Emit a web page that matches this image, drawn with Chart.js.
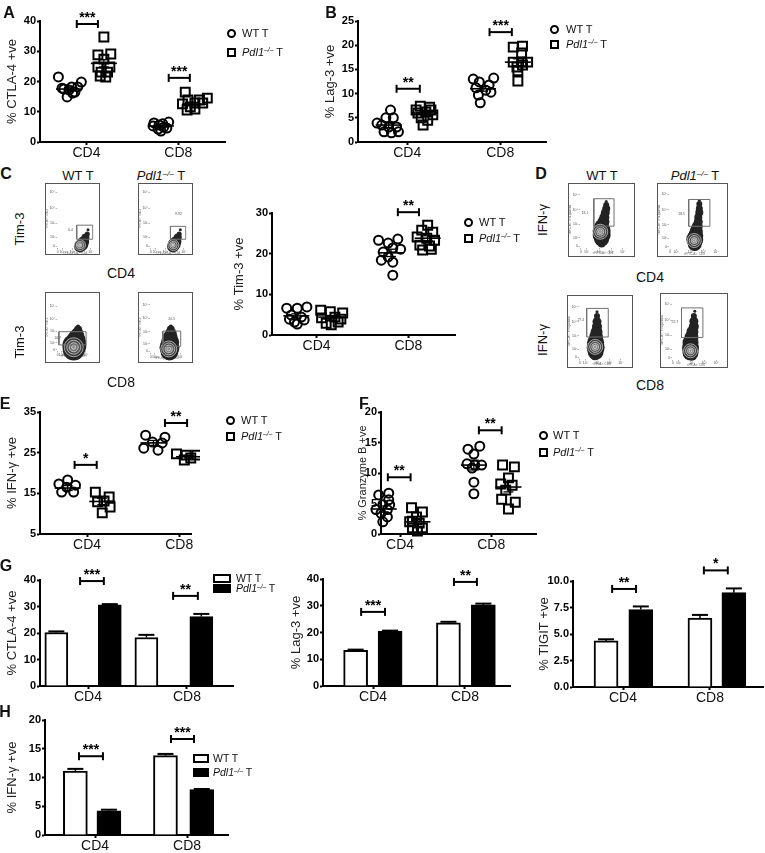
<!DOCTYPE html>
<html>
<head>
<meta charset="utf-8">
<title>Pdl1 T cell panels</title>
<script src="https://cdn.jsdelivr.net/npm/chart.js@4.4.1/dist/chart.umd.min.js"></script>
<style>
  html, body { margin: 0; padding: 0; background: #fff; }
  #fig { position: relative; width: 765px; height: 853px; overflow: hidden;
         font-family: "Liberation Sans", Arial, sans-serif; color: #111; }
  #fig canvas { position: absolute; }
  .t { position: absolute; white-space: nowrap; line-height: 1; }
  .c { transform: translateX(-50%); }
  .r { transform: translate(-50%, -50%) rotate(-90deg); }
  .b { font-weight: bold; }
  .sup { font-size: 0.62em; position: relative; top: -0.45em; font-style: italic; }
  .sym { position: absolute; box-sizing: border-box; border: 2px solid #000; }
</style>
</head>
<body>
<div id="fig"></div>
<script>
// ---------------- data ----------------
// dot plots: columns are WT CD4, Pdl1 CD4, WT CD8, Pdl1 CD8 (x axis: CD4 = 1, CD8 = 3)
const aPos = [0.62, 1.38, 2.62, 3.36];
const aWT4 = [21.5, 17.8, 17.5, 14.9, 17.2, 18.2, 16.2, 16.5, 18.2, 19.8];
const aWT4x = [-0.23, -0.15, -0.11, -0.04, 0, 0.06, 0.08, 0.13, 0.19, 0.27];
const aKO4 = [34.7, 28.8, 29.1, 27.4, 24.8, 24.8, 23.1, 23.1, 21.8, 21.5];
const aKO4x = [0, -0.13, 0.15, 0, -0.13, 0.13, -0.06, 0.08, -0.08, 0.04];
const aWT8 = [6.3, 5.6, 4.9, 4.3, 6.6, 5.3, 6.0, 4.6, 3.6];
const aWT8x = [-0.15, -0.04, 0.06, -0.06, 0.17, -0.17, 0.04, 0.13, 0];
const aKO8 = [16.5, 13.9, 12.6, 12.9, 11.6, 10.6, 10.9, 13.9, 14.5, 12.9];
const aKO8x = [-0.21, -0.15, -0.27, 0, -0.1, -0.17, 0, 0.1, 0.27, 0.17];
const aMean = [17.5, 26.0, 5.3, 12.5];
const aSem = [0.6, 1.2, 0.3, 0.6];
const aSig = [[0.79, 1.25, 39, '***'], [2.79, 3.25, 21.2, '***']];

const bPos = [0.6, 1.38, 2.63, 3.38];
const bWT4 = [6.6, 5.0, 5.0, 3.5, 3.1, 3.1, 2.1, 1.9, 2.1, 3.9];
const bWT4x = [0.04, -0.06, 0.1, -0.15, 0, 0.17, -0.1, 0.06, 0.21, -0.25];
const bKO4 = [7.4, 7.2, 6.0, 6.2, 5.6, 5.0, 4.5, 3.5, 6.6, 6.6];
const bKO4x = [-0.1, 0.1, -0.15, 0.02, 0.17, -0.08, 0.06, -0.04, -0.19, 0.13];
const bWT8 = [13.0, 12.4, 13.2, 11.8, 11.2, 10.7, 9.7, 10.3, 8.1];
const bWT8x = [-0.21, -0.08, 0.23, 0.13, -0.15, 0.06, -0.1, 0.17, -0.06];
const bKO8 = [19.6, 19.8, 18.4, 16.5, 16.5, 16.5, 15.5, 15.9, 14.7, 12.6];
const bKO8x = [-0.1, 0.1, 0.08, -0.1, 0.08, 0.21, -0.02, 0.1, 0, 0];
const bMean = [3.5, 6.0, 11.0, 16.5];
const bSem = [0.5, 0.4, 0.5, 0.7];
const bSig = [[0.77, 1.27, 11, '**'], [2.77, 3.25, 22.7, '***']];

const cPos = [0.56, 1.32, 2.62, 3.42];
const cWT4 = [6.6, 6.6, 6.9, 4.9, 4.4, 3.2, 3.7, 3.9, 2.7];
const cWT4x = [-0.21, 0.02, 0.23, -0.11, 0.11, -0.04, 0.17, -0.15, 0.02];
const cKO4 = [6.1, 5.7, 5.4, 4.2, 4.4, 2.9, 3.2, 2.5, 3.9];
const cKO4x = [-0.23, -0.02, 0.25, -0.21, 0.08, -0.11, 0.15, 0, 0.21];
const cWT8 = [23.3, 22.6, 23.6, 20.4, 21.4, 21.1, 19.2, 18.4, 17.9, 14.7];
const cWT8x = [-0.27, -0.06, 0.15, -0.17, 0.04, 0.21, -0.06, -0.21, 0.04, 0.04];
const cKO8 = [27.0, 25.8, 25.3, 24.1, 23.8, 23.3, 22.1, 21.9, 20.9, 21.1];
const cKO8x = [0, -0.13, 0.11, -0.23, -0.02, 0.15, -0.17, 0.04, -0.11, 0.08];
const cMean = [4.7, 4.4, 20.2, 23.8];
const cSem = [0.5, 0.4, 0.9, 0.6];
const cSig = [[2.77, 3.23, 30.2, '**']];

const ePos = [0.58, 1.33, 2.44, 3.21];
const eWT4 = [18.3, 17.3, 17.0, 15.3, 15.3, 16.5];
const eWT4x = [0, -0.19, 0.17, -0.13, 0.13, -0.02];
const eKO4 = [15.3, 14.1, 12.9, 13.1, 11.6, 10.2];
const eKO4x = [-0.15, 0.15, -0.1, 0.04, 0.17, 0];
const eWT8 = [29.3, 28.8, 27.6, 26.1, 25.6, 27.4];
const eWT8x = [-0.17, 0.25, -0.02, -0.21, 0.1, 0.19];
const eKO8 = [24.7, 24.4, 24.4, 23.7, 23.2, 23.9];
const eKO8x = [-0.27, -0.06, 0.17, 0.04, -0.1, 0.25];
const eMean = [16.3, 13.0, 27.4, 24.0];
const eSem = [0.6, 0.8, 0.6, 0.3];
const eSig = [[0.73, 1.21, 22, '*'], [2.69, 3.17, 32.3, '**']];

const fPos = [0.64, 1.38, 2.62, 3.38];
const fWT4 = [6.7, 6.4, 5.6, 4.8, 4.0, 3.4, 2.8, 2.0, 4.8, 4.0];
const fWT4x = [0.11, -0.11, 0.11, -0.02, 0.08, -0.06, 0.08, -0.02, 0.13, -0.17];
const fKO4 = [4.3, 3.6, 2.8, 2.0, 1.8, 1.0, 1.0, 0.5, 2.1];
const fKO4x = [-0.13, 0.11, -0.02, -0.17, 0.04, -0.11, 0.11, 0, -0.11];
const fWT8 = [13.9, 14.4, 13.1, 11.5, 11.3, 11.3, 10.8, 8.5, 6.6];
const fWT8x = [-0.13, 0.13, 0, -0.15, 0.02, 0.17, -0.04, 0, 0];
const fKO8 = [11.3, 11.0, 9.2, 8.2, 8.0, 7.2, 5.7, 5.2, 4.1];
const fKO8x = [-0.13, 0.13, 0, -0.17, 0.08, -0.06, -0.15, 0.15, 0];
const fMean = [4.1, 2.0, 11.3, 7.7];
const fSem = [0.5, 0.4, 0.8, 0.8];
const fSig = [[0.73, 1.23, 9.3, '**'], [2.73, 3.23, 17, '**']];

// bar charts: WT CD4, Pdl1 CD4, WT CD8, Pdl1 CD8
const g1Pos = [0.36, 1.44, 2.18, 3.29];
const g1Val = [20.2, 30.6, 18.3, 26.2];
const g1Sem = [0.4, 0.3, 1.0, 1.0];
const g1Sig = [[0.84, 1.32, 39.6, '***'], [2.72, 3.22, 34, '**']];

const g2Pos = [0.62, 1.37, 2.64, 3.4];
const g2Val = [13.3, 20.5, 23.6, 30.3];
const g2Sem = [0.3, 0.2, 0.4, 0.5];
const g2Sig = [[0.74, 1.26, 27.7, '***'], [2.76, 3.26, 38.9, '**']];

const g3Pos = [0.61, 1.41, 2.77, 3.55];
const g3Val = [4.35, 7.3, 6.5, 8.9];
const g3Sem = [0.15, 0.3, 0.3, 0.4];
const g3Sig = [[0.75, 1.3, 9.25, '**'], [2.86, 3.41, 11.0, '*']];

const hPos = [0.57, 1.3, 2.53, 3.32];
const hVal = [11.1, 4.2, 13.8, 7.9];
const hSem = [0.4, 0.2, 0.3, 0.1];
const hSig = [[0.65, 1.17, 13.7, '***'], [2.65, 3.15, 16.7, '***']];

// tick labels
const ticksA = [0, 10, 20, 30, 40];
const ticksB = [0, 5, 10, 15, 20, 25];
const ticksC = [0, 10, 20, 30];
const ticksE = [5, 15, 25, 35];
const ticksF = [0, 5, 10, 15, 20];
const ticksG3 = [0, 2.5, 5, 7.5, 10];
const catLabels = ['CD4', 'CD8'];

// flow plots (axes in % of plot): gate [x1, y1, x2, y2], gate label [x, y, text],
// density outline [x, y, r] read down the population, contour rings [x, y, r]
const flowTickY = [3, 18, 42, 68, 95];
const flowTickX = [2, 14, 42, 68, 93];
const flowTickLab = ['0', '10²', '10³', '10⁴', '10⁵'];

const c1Gate = [54, 15, 98, 39], c1Lab = [37, 31, '6.4'];
const c1Blob = [[85, 31, 1.5], [83, 24, 2.5], [78, 18, 4], [73, 11, 5.5], [68, 6, 6.5], [63, 3, 6]];
const c1Ring = [[63, 5, 5.5], [63, 5, 3.8], [62, 5, 2.2], [62, 5, 1]];
const c2Gate = [56, 15, 98, 37], c2Lab = [78, 58, '9.92'];
const c2Blob = [[83, 31, 1.5], [80, 24, 2.5], [76, 18, 4], [71, 11, 5.5], [66, 6, 6.5], [63, 3, 6]];
const c2Ring = [[64, 5, 5.5], [64, 5, 3.8], [63, 5, 2.2], [63, 5, 1]];
const c3Gate = [6, 13, 94, 41], c3Lab = [2, 27, '16.7'];
const c3Blob = [[68, 52, 2], [68, 46, 4], [66, 38, 6], [63, 30, 8], [61, 21, 10], [56, 11, 12], [54, 3, 11]];
const c3Ring = [[54, 8, 9.5], [54, 8, 7], [54, 8, 4.5], [54, 8, 2.2]];
const c4Gate = [39, 13, 93, 43], c4Lab = [66, 67, '20.5'];
const c4Blob = [[63, 52, 2], [63, 46, 4], [63, 38, 6], [61, 30, 7.5], [61, 21, 9], [59, 11, 10], [59, 3, 9]];
const c4Ring = [[57, 8, 8], [57, 8, 6], [57, 8, 3.8], [57, 8, 2]];

const d1Gate = [30, 39, 74, 88], d1Lab = [11, 63, '18.1'];
const d1Blob = [[57, 83, 1.5], [57, 77, 3], [57, 70, 4], [55, 63, 4.5], [53, 55, 5], [51, 47, 6],
                [47, 39, 7], [47, 31, 9], [47, 23, 9], [47, 16, 7.5], [47, 8, 4]];
const d1Ring = [[44, 29, 7.5], [44, 29, 5.5], [44, 29, 3.5], [44, 29, 1.8]];
const d2Gate = [39, 39, 81, 86], d2Lab = [25, 61, '18.5'];
const d2Blob = [[60, 84, 1.5], [60, 78, 3], [60, 70, 3.5], [60, 63, 4], [58, 55, 4], [58, 47, 4.5],
                [56, 39, 5.5], [54, 31, 6.5], [53, 23, 7.5], [51, 16, 8.5], [51, 8, 7], [51, 2, 3.5]];
const d2Ring = [[50, 14, 7], [50, 14, 5], [50, 14, 3], [50, 14, 1.5]];
const d3Gate = [17, 40, 65, 92], d3Lab = [4, 70, '27.4'];
const d3Blob = [[40, 86, 1.5], [40, 78, 3], [40, 68, 4.5], [40, 59, 5], [39, 49, 6], [38, 40, 7],
                [37, 30, 8.5], [37, 21, 9], [37, 13, 8], [35, 5, 4]];
const d3Ring = [[36, 22, 7.5], [36, 22, 5.5], [36, 22, 3.5], [36, 22, 1.8]];
const d4Gate = [20, 38, 65, 89], d4Lab = [6, 65, '22.7'];
const d4Blob = [[48, 83, 1.5], [46, 75, 3], [46, 66, 4.5], [46, 57, 5], [43, 48, 6], [41, 38, 7],
                [39, 29, 8], [39, 20, 8.5], [39, 12, 8], [43, 5, 4]];
const d4Ring = [[39, 15, 7], [39, 15, 5], [39, 15, 3], [39, 15, 1.5]];

// ---------------- drawing ----------------
Chart.defaults.font.family = "'Liberation Sans', Arial, sans-serif";
Chart.defaults.color = '#111';
Chart.defaults.animation = false;
Chart.defaults.events = [];
Chart.defaults.plugins.legend.display = false;
Chart.defaults.plugins.tooltip.enabled = false;

const fig = document.getElementById('fig');
const KO = '<i>Pdl1</i><span class="sup">–/–</span> T';

function mk(left, top, w, h) {
  const c = document.createElement('canvas');
  c.width = w; c.height = h;
  c.style.left = left + 'px'; c.style.top = top + 'px';
  c.style.width = w + 'px'; c.style.height = h + 'px';
  fig.appendChild(c);
  return c;
}

function txt(html, x, y, size, mode, extra) {
  const d = document.createElement('div');
  d.className = 't ' + (mode || '') + ' ' + (extra || '');
  d.style.fontSize = size + 'px';
  d.style.left = x + 'px';
  d.style.top = (mode === 'r' ? y : y - size / 2) + 'px';
  d.innerHTML = html;
  fig.appendChild(d);
}

function sym(x, y, w, h, round, fill) {
  const s = document.createElement('div');
  s.className = 'sym';
  s.style.left = (x - w / 2) + 'px'; s.style.top = (y - h / 2) + 'px';
  s.style.width = w + 'px'; s.style.height = h + 'px';
  if (round) s.style.borderRadius = '50%';
  s.style.background = fill || 'transparent';
  fig.appendChild(s);
}

function dotLegend(x, y1, y2, tx) {
  sym(x, y1, 9, 9, true);
  sym(x, y2, 9, 9, false);
  txt('WT T', tx, y1, 11);
  txt(KO, tx, y2, 11);
}

function barLegend(x, y1, y2, w, tx) {
  sym(x, y1, w, 9, false, '#fff');
  sym(x, y2, w, 9, false, '#000');
  txt('WT T', tx, y1, 10.5);
  txt(KO, tx, y2, 10.5);
}

// mean / sem lines, bar error bars, significance brackets, flow frame + gate label
function marks(o) {
  return {
    id: 'marks',
    beforeDraw(chart) {
      if (!o.frame) return;
      const ctx = chart.ctx;
      ctx.save();
      ctx.strokeStyle = '#555'; ctx.lineWidth = 1;
      ctx.strokeRect(0.5, 0.5, chart.width - 1, chart.height - 1);
      ctx.restore();
    },
    afterDatasetsDraw(chart) {
      const ctx = chart.ctx, sx = chart.scales.x, sy = chart.scales.y;
      const X = v => sx.getPixelForValue(v), Y = v => sy.getPixelForValue(v);
      const seg = (x1, y1, x2, y2, w) => {
        ctx.lineWidth = w; ctx.beginPath(); ctx.moveTo(x1, y1); ctx.lineTo(x2, y2); ctx.stroke();
      };
      ctx.save();
      ctx.strokeStyle = '#000'; ctx.fillStyle = '#000';
      (o.means || []).forEach(m => {
        const px = X(m[0]), py = Y(m[1]), hi = Y(m[1] + m[2]), lo = Y(m[1] - m[2]);
        seg(px - 13, py, px + 13, py, 1.6);
        seg(px, hi, px, lo, 1.3);
        seg(px - 5, hi, px + 5, hi, 1.3);
        seg(px - 5, lo, px + 5, lo, 1.3);
      });
      (o.errs || []).forEach(e => {
        const px = X(e[0]), py = Y(e[1]), hi = Y(e[1] + e[2]);
        seg(px, py, px, hi, 1.5);
        seg(px - 8, hi, px + 8, hi, 2);
      });
      (o.sig || []).forEach(s => {
        const a = X(s[0]), b = X(s[1]), py = Y(s[2]);
        seg(a, py, b, py, 2);
        seg(a, py - 4, a, py + 4, 2);
        seg(b, py - 4, b, py + 4, 2);
        ctx.font = "bold 14px 'Liberation Sans', Arial, sans-serif";
        ctx.textAlign = 'center'; ctx.textBaseline = 'alphabetic';
        ctx.fillText(s[3], (a + b) / 2, py - 2);
      });
      if (o.lab) {
        ctx.font = "3.5px 'Liberation Sans', Arial, sans-serif";
        ctx.fillStyle = '#555'; ctx.textAlign = 'center'; ctx.textBaseline = 'middle';
        ctx.fillText(o.lab[2], X(o.lab[0]), Y(o.lab[1]));
      }
      ctx.restore();
    }
  };
}

function axes(p) {
  const tickGrid = { display: true, drawOnChartArea: false, tickLength: 3, tickWidth: 2, tickColor: '#000' };
  const border = { display: true, width: 2, color: '#000' };
  return {
    x: {
      type: 'linear', min: p.xr[0], max: p.xr[1], offset: false,
      afterBuildTicks: s => { s.ticks = [{ value: 1 }, { value: 3 }]; },
      afterFit: s => { s.height = 22; },
      ticks: { autoSkip: false, maxRotation: 0, padding: 0, font: { size: 14 }, color: '#111',
               callback: (v, i) => catLabels[i] },
      grid: Object.assign({ offset: false }, tickGrid), border
    },
    y: {
      min: p.ticks[0], max: p.ticks[p.ticks.length - 1],
      afterBuildTicks: s => { s.ticks = p.ticks.map(v => ({ value: v })); },
      afterFit: s => { s.width = p.wy; },
      ticks: { autoSkip: false, padding: 1, font: { size: 11, weight: 'bold' }, color: '#000',
               callback: v => p.fixed ? v.toFixed(1) : String(v) },
      grid: tickGrid, border,
      title: { display: true, text: p.title, font: { size: p.ts || 13 }, color: '#222', padding: 0 }
    }
  };
}

function place(box, wy, pt) {
  const PR = 2, HX = 22;
  return mk(box[0] - wy, box[1] - pt, box[2] - box[0] + wy + PR, box[3] - box[1] + pt + HX);
}

const pts = (pos, vals, offs) => vals.map((v, i) => ({ x: pos + offs[i], y: v }));

function dotPanel(p) {
  const c = place(p.box, p.wy, 18);
  const means = p.pos.map((x, i) => [x, p.mean[i], p.sem[i]]);
  new Chart(c, {
    type: 'scatter',
    data: { datasets: [
      { data: pts(p.pos[0], p.g[0], p.g[1]).concat(pts(p.pos[2], p.g[4], p.g[5])),
        pointStyle: 'circle', pointRadius: 4.5, pointBorderWidth: 2,
        borderColor: '#000', backgroundColor: 'rgba(255,255,255,0)', clip: false },
      { data: pts(p.pos[1], p.g[2], p.g[3]).concat(pts(p.pos[3], p.g[6], p.g[7])),
        pointStyle: 'rect', pointRadius: 6.3, pointBorderWidth: 2,
        borderColor: '#000', backgroundColor: 'rgba(255,255,255,0)', clip: false }
    ] },
    options: {
      responsive: false,
      layout: { padding: { top: 18, right: 2, left: 0, bottom: 0 } },
      scales: axes(p)
    },
    plugins: [marks({ means, sig: p.sig })]
  });
}

function barPanel(p) {
  const c = place(p.box, p.wy, p.pt || 18);
  const bar = i => ({ x: p.pos[i], y: p.val[i] });
  const errs = p.pos.map((x, i) => [x, p.val[i], p.sem[i]]);
  new Chart(c, {
    type: 'bar',
    data: { datasets: [
      { data: [bar(0), bar(2)], backgroundColor: '#fff', borderColor: '#000', borderWidth: 2,
        barThickness: p.bw, grouped: false },
      { data: [bar(1), bar(3)], backgroundColor: '#000', borderColor: '#000', borderWidth: 2,
        barThickness: p.bw, grouped: false }
    ] },
    options: {
      responsive: false,
      layout: { padding: { top: p.pt || 18, right: 2, left: 0, bottom: 0 } },
      scales: axes(p)
    },
    plugins: [marks({ errs, sig: p.sig })]
  });
}

function flowPlot(f) {
  const c = mk(f.box[0], f.box[1], f.box[2], f.box[3]);
  const g = f.gate;
  const fills = ['#3a3a3a', '#555', '#707070', '#909090'];
  const tiny = { size: 3.5 };
  const tickGrid = { display: true, drawOnChartArea: false, tickLength: 1.5, tickWidth: 0.5, tickColor: '#666' };
  new Chart(c, {
    type: 'bubble',
    data: { datasets: [
      { type: 'line', data: [{ x: g[0], y: g[1] }, { x: g[2], y: g[1] }, { x: g[2], y: g[3] },
                             { x: g[0], y: g[3] }, { x: g[0], y: g[1] }],
        borderColor: '#707070', borderWidth: 1, pointRadius: 0, fill: false, tension: 0 },
      { data: f.ring.map(r => ({ x: r[0], y: r[1], r: r[2] })),
        backgroundColor: fills, borderColor: 'rgba(255,255,255,0.8)', borderWidth: 0.7, clip: false },
      { data: f.blob.map(r => ({ x: r[0], y: r[1], r: r[2] })),
        backgroundColor: '#232323', borderWidth: 0, clip: false }
    ] },
    options: {
      responsive: false,
      layout: { padding: { top: 3, right: 2, left: 0, bottom: 0 } },
      scales: {
        x: { type: 'linear', min: 0, max: 100,
             afterBuildTicks: s => { s.ticks = flowTickX.map(v => ({ value: v })); },
             afterFit: s => { s.height = 7; },
             ticks: { autoSkip: false, maxRotation: 0, padding: 0, font: tiny, color: '#555',
                      callback: (v, i) => flowTickLab[i] },
             grid: tickGrid, border: { display: false },
             title: { display: true, text: f.xt, font: { size: 3 }, color: '#666', padding: 0 } },
        y: { min: 0, max: 100,
             afterBuildTicks: s => { s.ticks = flowTickY.map(v => ({ value: v })); },
             afterFit: s => { s.width = 12; },
             ticks: { autoSkip: false, padding: 0.5, font: tiny, color: '#555',
                      callback: (v, i) => flowTickLab[i] },
             grid: tickGrid, border: { display: false },
             title: { display: true, text: f.yt, font: { size: 3 }, color: '#666', padding: 0 } }
      }
    },
    plugins: [marks({ frame: true, lab: f.lab })]
  });
}

// ---- panel A, B, C (dot plot), E, F ----
dotPanel({ box: [40, 21, 232, 142], wy: 35, xr: [-0.01, 4.03], ticks: ticksA, title: '% CTLA-4 +ve',
           pos: aPos, g: [aWT4, aWT4x, aKO4, aKO4x, aWT8, aWT8x, aKO8, aKO8x], mean: aMean, sem: aSem, sig: aSig });
dotPanel({ box: [358, 21, 553, 142], wy: 35, xr: [-0.06, 4.0], ticks: ticksB, title: '% Lag-3 +ve',
           pos: bPos, g: [bWT4, bWT4x, bKO4, bKO4x, bWT8, bWT8x, bKO8, bKO8x], mean: bMean, sem: bSem, sig: bSig });
dotPanel({ box: [272, 213, 462, 335], wy: 40, xr: [0.03, 4.03], ticks: ticksC, title: '% Tim-3 +ve',
           pos: cPos, g: [cWT4, cWT4x, cKO4, cKO4x, cWT8, cWT8x, cKO8, cKO8x], mean: cMean, sem: cSem, sig: cSig });
dotPanel({ box: [40, 412, 198, 534], wy: 35, xr: [-0.02, 3.27], ticks: ticksE, title: '% IFN-γ +ve',
           pos: ePos, g: [eWT4, eWT4x, eKO4, eKO4x, eWT8, eWT8x, eKO8, eKO8x], mean: eMean, sem: eSem, sig: eSig });
dotPanel({ box: [381, 412, 543, 534], wy: 25, ts: 11, xr: [0.58, 4.0], ticks: ticksF, title: '% Granzyme B +ve',
           pos: fPos, g: [fWT4, fWT4x, fKO4, fKO4x, fWT8, fWT8x, fKO8, fKO8x], mean: fMean, sem: fSem, sig: fSig });

// ---- panel G, H (bars) ----
barPanel({ box: [40, 580, 233, 686], wy: 35, bw: 23, xr: [0.03, 3.93], ticks: ticksA, title: '% CTLA-4 +ve',
           pos: g1Pos, val: g1Val, sem: g1Sem, sig: g1Sig });
barPanel({ box: [323, 579, 510, 686], wy: 34, bw: 24, xr: [-0.09, 3.98], ticks: ticksA, title: '% Lag-3 +ve',
           pos: g2Pos, val: g2Val, sem: g2Sem, sig: g2Sig });
barPanel({ box: [573, 581, 763, 687], wy: 36, bw: 24, pt: 30, xr: [-0.15, 4.22], ticks: ticksG3, fixed: true,
           title: '% TIGIT +ve', pos: g3Pos, val: g3Val, sem: g3Sem, sig: g3Sig });
barPanel({ box: [45, 720, 228, 835], wy: 40, bw: 24, xr: [-0.09, 3.89], ticks: ticksF, title: '% IFN-γ +ve',
           pos: hPos, val: hVal, sem: hSem, sig: hSig });

// ---- flow plots C and D ----
const cx4 = '<PE-Cy7-A>: CD4', cx8 = '<PE-Cy7-A>: CD8', cy = '<PE-A>: Tim-3';
const dx4 = '<FITC-A>: CD4', dx8 = '<PE-A>: CD8', dy = '<APC-A>: IFN-gamma';
flowPlot({ box: [45, 183, 55, 72], gate: c1Gate, lab: c1Lab, blob: c1Blob, ring: c1Ring, xt: cx4, yt: cy });
flowPlot({ box: [138, 183, 55, 72], gate: c2Gate, lab: c2Lab, blob: c2Blob, ring: c2Ring, xt: cx4, yt: cy });
flowPlot({ box: [45, 292, 55, 71], gate: c3Gate, lab: c3Lab, blob: c3Blob, ring: c3Ring, xt: cx8, yt: cy });
flowPlot({ box: [138, 292, 55, 71], gate: c4Gate, lab: c4Lab, blob: c4Blob, ring: c4Ring, xt: cx8, yt: cy });
flowPlot({ box: [568, 183, 67, 74], gate: d1Gate, lab: d1Lab, blob: d1Blob, ring: d1Ring, xt: dx4, yt: dy });
flowPlot({ box: [657, 183, 71, 74], gate: d2Gate, lab: d2Lab, blob: d2Blob, ring: d2Ring, xt: dx4, yt: dy });
flowPlot({ box: [567, 295, 66, 73], gate: d3Gate, lab: d3Lab, blob: d3Blob, ring: d3Ring, xt: dx8, yt: dy });
flowPlot({ box: [660, 293, 68, 75], gate: d4Gate, lab: d4Lab, blob: d4Blob, ring: d4Ring, xt: dx8, yt: dy });

// ---- text overlays ----
[['A', 9, 13], ['B', 331, 13], ['C', 6, 174], ['D', 541, 174],
 ['E', 5, 404], ['F', 364, 404], ['G', 6, 566], ['H', 5, 712]].forEach(l => txt(l[0], l[1], l[2], 16, 'c', 'b'));

txt('WT T', 78, 175, 13, 'c'); txt(KO, 161, 175, 13, 'c');
txt('WT T', 602, 175, 13, 'c'); txt(KO, 695, 175, 13, 'c');
txt('Tim-3', 19, 229, 13, 'r'); txt('Tim-3', 19, 342, 13, 'r');
txt('IFN-γ', 542, 220, 13, 'r'); txt('IFN-γ', 542, 340, 13, 'r');
txt('CD4', 121, 273, 14, 'c'); txt('CD8', 121, 382, 14, 'c');
txt('CD4', 650, 277, 14, 'c'); txt('CD8', 650, 385, 14, 'c');

dotLegend(231, 33, 52, 242);
dotLegend(554, 29, 44, 566);
dotLegend(468, 222, 238, 479);
dotLegend(230, 420, 436, 241);
dotLegend(543, 435, 452, 553);
barLegend(222, 578, 588, 18, 236);
barLegend(201, 758, 772, 16, 213);
</script>
</body>
</html>
